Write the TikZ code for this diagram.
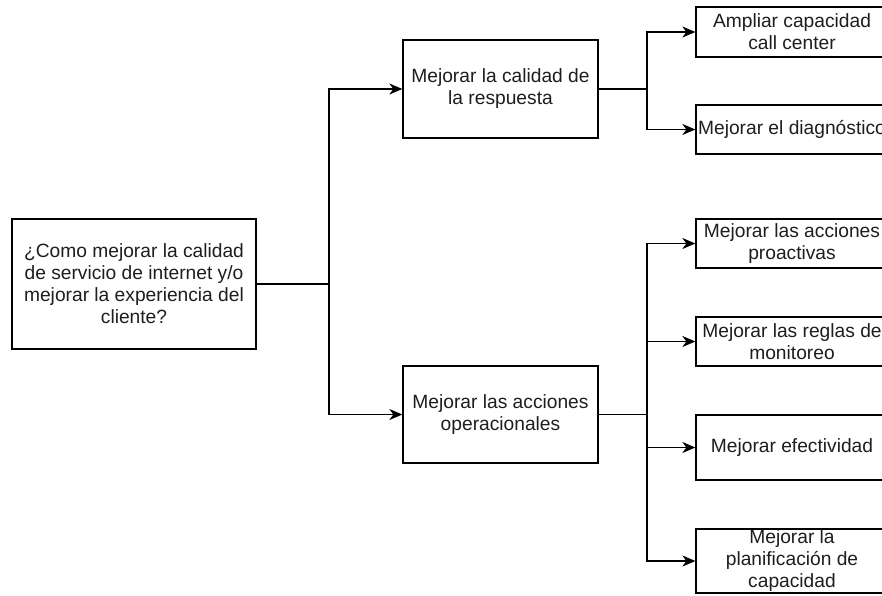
\documentclass[tikz,border=0pt]{standalone}
\usepackage{fontspec}
\setmainfont{Liberation Sans}
\usetikzlibrary{arrows.meta}
\definecolor{ink}{RGB}{30,30,30}
\begin{document}
\begin{tikzpicture}[x=1pt,y=-1pt,
  box/.style={draw=black,line width=1.3pt,fill=white,align=center,inner sep=0pt,
    font=\fontsize{19.2}{22}\selectfont,text=ink},
  link/.style={line width=1.3pt,draw=black},
  arr/.style={link,-{Stealth[length=13pt,width=11pt,inset=4pt]}}]
\clip (0,0) rectangle (882,595);
\fill[white] (0,0) rectangle (882,595);

% root question
\node[box,minimum width=244pt,minimum height=130pt] (root) at (134,284)
  {¿Como mejorar la calidad\\de servicio de internet y/o\\mejorar la experiencia del\\cliente?};

% second level
\node[box,minimum width=195pt,minimum height=98pt] (resp) at (500.5,89)
  {Mejorar la calidad de\\la respuesta};
\node[box,minimum width=195pt,minimum height=97pt] (oper) at (500.5,414.5)
  {Mejorar las acciones\\operacionales};

% third level
\node[box,minimum width=192pt,minimum height=50pt] (cap) at (792,32)
  {Ampliar capacidad\\call center};
\node[box,minimum width=192pt,minimum height=49pt] (diag) at (792,129.5)
  {Mejorar el diagnóstico};
\node[box,minimum width=192pt,minimum height=49pt] (proa) at (792,243.5)
  {Mejorar las acciones\\proactivas};
\node[box,minimum width=192pt,minimum height=49pt] (moni) at (792,341.5)
  {Mejorar las reglas de\\monitoreo};
\node[box,minimum width=192pt,minimum height=65pt] (efec) at (792,447.5)
  {Mejorar efectividad};
\node[box,minimum width=192pt,minimum height=64pt] (plan) at (792,561)
  {Mejorar la\\planificación de\\capacidad};

% junction points
\coordinate (j0) at (329,284);
\coordinate (j1) at (647,89);
\coordinate (j2) at (647,414.5);

% connectors
\draw[link] (root.east) -- (j0);
\draw[arr] (j0) |- (resp.west);
\draw[arr] (j0) |- (oper.west);

\draw[link] (resp.east) -- (j1);
\draw[arr] (j1) |- (cap.west);
\draw[arr] (j1) |- (diag.west);

\draw[link] (oper.east) -- (j2);
\draw[arr] (j2) |- (proa.west);
\draw[arr] (j2) |- (moni.west);
\draw[arr] (j2) |- (efec.west);
\draw[arr] (j2) |- (plan.west);
\end{tikzpicture}
\end{document}
